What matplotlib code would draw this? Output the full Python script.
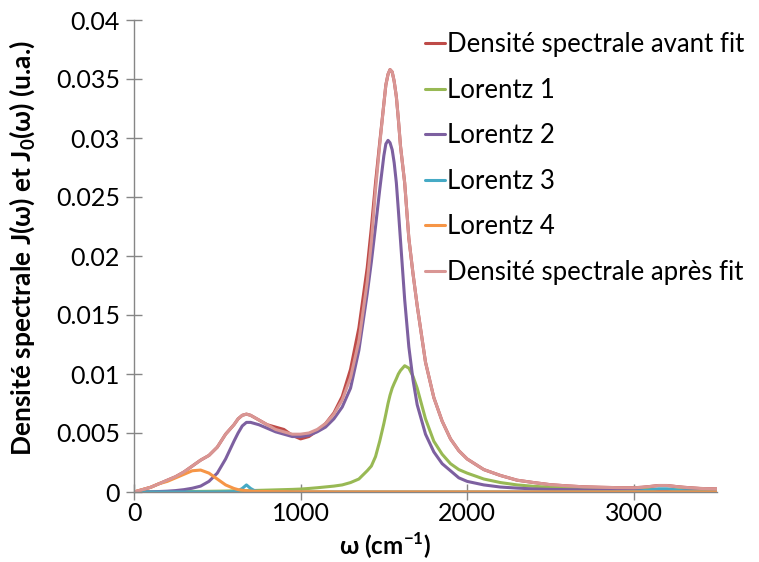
import matplotlib
matplotlib.use("Agg")
import matplotlib.pyplot as plt

# wavenumber grid (cm-1)
omega = [0, 50, 100, 150, 200, 250, 300, 350, 400, 450, 500, 550, 600, 625, 650, 675,
         700, 725, 750, 800, 850, 900, 950, 1000, 1050, 1100, 1150, 1200, 1250, 1300,
         1350, 1400, 1425, 1450, 1475, 1500, 1512, 1525, 1537, 1550, 1562, 1575, 1587,
         1600, 1625, 1650, 1675, 1700, 1750, 1800, 1850, 1900, 1950, 2000, 2100, 2200,
         2300, 2400, 2500, 2600, 2700, 2800, 2900, 3000, 3050, 3100, 3150, 3200, 3250,
         3300, 3400, 3500]

avant_fit = [0, 0.0002, 0.0004, 0.0007, 0.001, 0.0013, 0.0017, 0.0022, 0.0027, 0.0031,
             0.0038, 0.0049, 0.0057, 0.0062, 0.0065, 0.0066, 0.0065, 0.0063, 0.0061,
             0.0057, 0.0055, 0.0053, 0.0048, 0.0045, 0.0047, 0.0052, 0.0058, 0.0067,
             0.0081, 0.0104, 0.0139, 0.0190, 0.0224, 0.0262, 0.0296, 0.0329, 0.0345,
             0.0354, 0.0358, 0.0356, 0.0348, 0.0335, 0.0316, 0.0293, 0.0262, 0.0215,
             0.0185, 0.0158, 0.0110, 0.0080, 0.0060, 0.0045, 0.0035, 0.0028, 0.0019,
             0.0014, 0.0010, 0.0008, 0.00062, 0.00052, 0.00044, 0.0004, 0.00037, 0.00036,
             0.0004, 0.00047, 0.00055, 0.00055, 0.00047, 0.0004, 0.0003, 0.00026]

lorentz1 = [0, 0, 0.00001, 0.00001, 0.00002, 0.00002, 0.00003, 0.00004, 0.00005, 0.00006,
            0.00007, 0.00008, 0.0001, 0.0001, 0.00011, 0.00011, 0.00012, 0.00013, 0.00014,
            0.00016, 0.00018, 0.0002, 0.00022, 0.00025, 0.0003, 0.00036, 0.00043, 0.0005,
            0.0006, 0.0008, 0.0011, 0.0018, 0.0022, 0.0030, 0.0043, 0.0058, 0.0066, 0.0075,
            0.0082, 0.0088, 0.0092, 0.0096, 0.0100, 0.0103, 0.0107, 0.0105, 0.0098, 0.0088,
            0.0062, 0.0043, 0.0032, 0.0024, 0.0019, 0.0016, 0.0011, 0.0008, 0.0006,
            0.00048, 0.0004, 0.00035, 0.0003, 0.00028, 0.00025, 0.00023, 0.00022, 0.00021,
            0.0002, 0.0002, 0.00019, 0.00018, 0.00017, 0.00016]

lorentz2 = [0, 0.00001, 0.00002, 0.00004, 0.00007, 0.00012, 0.0002, 0.00032, 0.0005, 0.0009,
            0.0016, 0.0028, 0.0043, 0.0050, 0.0056, 0.0059, 0.0059, 0.0058, 0.0057, 0.0054,
            0.0051, 0.0049, 0.0047, 0.0047, 0.0048, 0.0051, 0.0055, 0.0062, 0.0072, 0.0088,
            0.0120, 0.0168, 0.0195, 0.0225, 0.0256, 0.0285, 0.0295, 0.0298, 0.0296, 0.0290,
            0.0279, 0.0262, 0.0239, 0.0213, 0.0163, 0.0123, 0.0095, 0.0074, 0.0049, 0.0034,
            0.0024, 0.0018, 0.0012, 0.0009, 0.0006, 0.00042, 0.00033, 0.00026, 0.00022,
            0.0002, 0.00018, 0.00017, 0.00015, 0.00014, 0.00013, 0.00012, 0.00012, 0.00011,
            0.00011, 0.0001, 0.0001, 0.00009]

lorentz3 = [0, 0, 0, 0, 0, 0, 0, 0.00001, 0.00001, 0.00001, 0.00001, 0.00002, 0.00003,
            0.0001, 0.0003, 0.0006, 0.0003, 0.0001, 0.00005, 0.00002, 0.00001, 0.00001,
            0.00001, 0.00001, 0.00001, 0.00001, 0.00001, 0.00001, 0.00001, 0.00001, 0.00001,
            0.00001, 0.00001, 0.00001, 0.00001, 0.00001, 0.00001, 0.00001, 0.00001, 0.00001,
            0.00001, 0.00001, 0.00001, 0.00001, 0.00001, 0.00001, 0.00001, 0.00001, 0.00001,
            0.00001, 0.00001, 0.00001, 0.00001, 0.00001, 0.00001, 0.00001, 0.00001, 0.00001,
            0.00001, 0.00002, 0.00002, 0.00002, 0.00003, 0.00005, 0.0001, 0.00018, 0.00027,
            0.00027, 0.00018, 0.0001, 0.00004, 0.00002]

lorentz4 = [0, 0.0002, 0.0004, 0.0007, 0.0009, 0.0012, 0.0015, 0.0018, 0.00186, 0.0016,
            0.0011, 0.0006, 0.0003, 0.0002, 0.00015, 0.0001, 0.00008, 0.00006, 0.00005,
            0.00004, 0.00003, 0.00003, 0.00002, 0.00002, 0.00002, 0.00002, 0.00002, 0.00001,
            0.00001, 0.00001, 0.00001, 0.00001, 0.00001, 0.00001, 0.00001, 0.00001, 0.00001,
            0.00001, 0.00001, 0.00001, 0.00001, 0.00001, 0.00001, 0.00001, 0.00001, 0.00001,
            0.00001, 0.00001, 0.00001, 0.00001, 0.00001, 0.00001, 0.00001, 0.00001, 0.00001,
            0.00001, 0.00001, 0.00001, 0.00001, 0.00001, 0.00001, 0.00001, 0.00001, 0.00001,
            0.00001, 0.00001, 0.00001, 0.00001, 0.00001, 0.00001, 0.00001, 0.00001]

apres_fit = [0, 0.0002, 0.0004, 0.0007, 0.001, 0.0013, 0.0017, 0.0022, 0.0027, 0.0031,
             0.0038, 0.0049, 0.0057, 0.0062, 0.0065, 0.0066, 0.0065, 0.0063, 0.0061,
             0.0057, 0.0053, 0.0051, 0.0049, 0.0049, 0.0050, 0.0053, 0.0058, 0.0066,
             0.0078, 0.0097, 0.0128, 0.0178, 0.0212, 0.0256, 0.0294, 0.0329, 0.0345,
             0.0354, 0.0358, 0.0356, 0.0348, 0.0335, 0.0316, 0.0293, 0.0262, 0.0215,
             0.0185, 0.0158, 0.0110, 0.0080, 0.0060, 0.0045, 0.0035, 0.0028, 0.0019,
             0.0014, 0.0010, 0.0008, 0.00062, 0.00052, 0.00044, 0.0004, 0.00037, 0.00036,
             0.0004, 0.00047, 0.00055, 0.00055, 0.00047, 0.0004, 0.0003, 0.00026]

series = [
    ("Densité spectrale avant fit", avant_fit, "#BE4B48"),
    ("Lorentz 1", lorentz1, "#98B954"),
    ("Lorentz 2", lorentz2, "#7D60A0"),
    ("Lorentz 3", lorentz3, "#46AAC5"),
    ("Lorentz 4", lorentz4, "#F69546"),
    ("Densité spectrale après fit", apres_fit, "#D99694"),
]

yticks = [0, 0.005, 0.01, 0.015, 0.02, 0.025, 0.03, 0.035, 0.04]
ytick_labels = ["0", "0.005", "0.01", "0.015", "0.02", "0.025", "0.03", "0.035", "0.04"]
xticks = [0, 1000, 2000, 3000]

plt.rcParams["font.family"] = ["Lato", "DejaVu Sans"]
plt.rcParams["mathtext.fontset"] = "custom"
plt.rcParams["mathtext.rm"] = "Lato"
plt.rcParams["mathtext.bf"] = "Lato:bold"

fig = plt.figure(figsize=(7.59, 5.62), dpi=100)
ax = fig.add_axes([134 / 759, 1 - 492 / 562, (717 - 134) / 759, (492 - 20) / 562])

for label, vals, color in series:
    ax.plot(omega, vals, color=color, lw=2.2, label=label, solid_capstyle="round")

ax.set_xlim(0, 3500)
ax.set_ylim(0, 0.04)
ax.set_xticks(xticks)
ax.set_xticklabels([str(t) for t in xticks])
ax.set_yticks(yticks)
ax.set_yticklabels(ytick_labels)

for side in ["top", "right"]:
    ax.spines[side].set_visible(False)
for side in ["left", "bottom"]:
    ax.spines[side].set_color("#868686")
    ax.spines[side].set_linewidth(1)
ax.tick_params(direction="inout", length=12, width=1, color="#868686", labelsize=18)
ax.tick_params(axis="y", pad=4)
ax.tick_params(axis="x", pad=1)

fig.text(22 / 759, 1 - 248 / 562, r"Densité spectrale J(ω) et J$_{\mathbf{0}}$(ω) (u.a.)",
         rotation=90, ha="center", va="center", fontsize=19, fontweight="bold")
fig.text(385 / 759, 1 - 546 / 562, r"ω (cm$^{\mathbf{-1}}$)",
         ha="center", va="center", fontsize=17.5, fontweight="bold")

fig.legend(loc="upper left", bbox_to_anchor=(425 / 759, 1 - 32 / 562), frameon=False,
           fontsize=18.5, handlelength=0.78, handletextpad=0.08, labelspacing=0.80,
           borderaxespad=0, borderpad=0)

fig.savefig("out.png", dpi=100)
